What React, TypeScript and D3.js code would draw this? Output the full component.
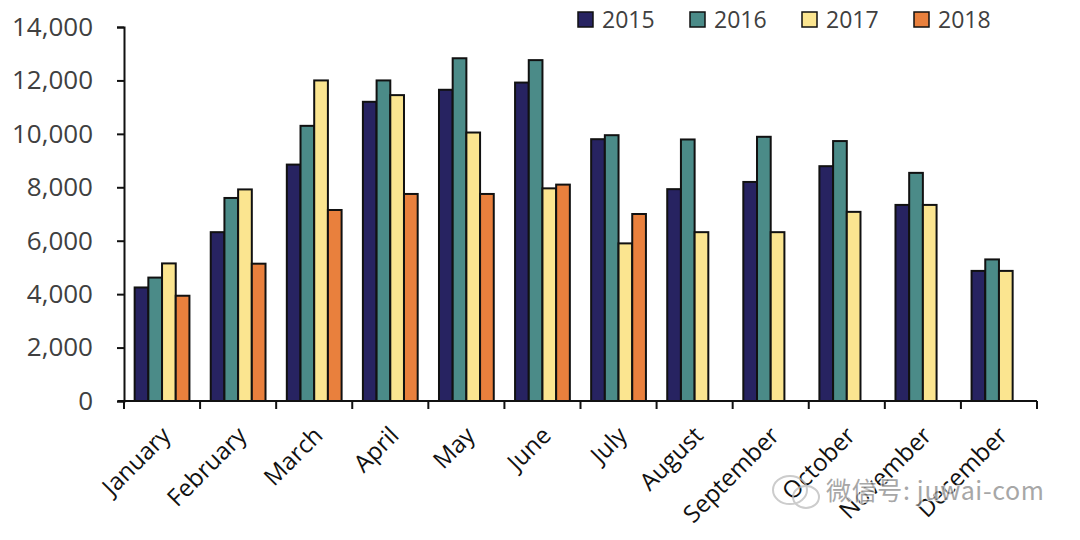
import { useEffect, useRef } from "react";
import * as d3 from "d3";

const months = [
  "January",
  "February",
  "March",
  "April",
  "May",
  "June",
  "July",
  "August",
  "September",
  "October",
  "November",
  "December",
];
const years = ["2015", "2016", "2017", "2018"];
const v2015 = [4250, 6320, 8850, 11200, 11650, 11920, 9800, 7930, 8200, 8790, 7340, 4870];
const v2016 = [4620, 7600, 10300, 12000, 12830, 12760, 9950, 9790, 9890, 9730, 8540, 5300];
const v2017 = [5150, 7920, 12000, 11450, 10050, 7960, 5900, 6320, 6320, 7080, 7340, 4870];
const v2018 = [3940, 5140, 7150, 7750, 7750, 8100, 7000, null, null, null, null, null];
const yTicks = [0, 2000, 4000, 6000, 8000, 10000, 12000, 14000];
const colors = ["#272361", "#4b8b88", "#fbe590", "#e9803d"];

const W = 1080;
const H = 540;
const font = "'Open Sans', 'Noto Sans', sans-serif";

export default function App() {
  const ref = useRef<SVGSVGElement | null>(null);

  useEffect(() => {
    if (!ref.current) return;
    const svg = d3.select(ref.current);
    svg.selectAll("*").remove();

    const series = [v2015, v2016, v2017, v2018];
    const x0 = d3.scaleBand<string>().domain(months).range([124, 1037]);
    const bw = x0.bandwidth();
    const x1 = d3
      .scaleBand<string>()
      .domain(years)
      .range([bw * 0.14, bw * 0.86]);
    const y = d3.scaleLinear([0, 14000], [401, 27]);

    // bars
    const groups = svg
      .append("g")
      .selectAll("g")
      .data(months)
      .join("g")
      .attr("transform", (m) => `translate(${x0(m)},0)`);

    groups
      .selectAll("rect")
      .data((m, i) =>
        years
          .map((yr, k) => ({ yr, k, v: series[k][i] }))
          .filter((d) => d.v != null)
      )
      .join("rect")
      .attr("x", (d) => x1(d.yr)!)
      .attr("width", x1.bandwidth())
      .attr("y", (d) => y(d.v as number))
      .attr("height", (d) => y(0) - y(d.v as number))
      .attr("fill", (d) => colors[d.k])
      .attr("stroke", "#111")
      .attr("stroke-width", 2);

    // y axis
    const yAxis = svg
      .append("g")
      .attr("transform", "translate(124,0)")
      .call(
        d3
          .axisLeft(y)
          .tickValues(yTicks)
          .tickSize(7)
          .tickPadding(24)
          .tickFormat((d) => d3.format(",")(d as number))
      );
    yAxis.select(".domain").attr("stroke", "#111").attr("stroke-width", 2);
    yAxis.selectAll(".tick line").attr("stroke", "#111").attr("stroke-width", 2);
    yAxis
      .selectAll(".tick text")
      .attr("fill", "#404040")
      .style("font-family", font)
      .style("font-size", "26px");

    // x axis
    const xg = svg.append("g").attr("transform", "translate(0,401)");
    xg.append("line")
      .attr("x1", 118)
      .attr("x2", 1037)
      .attr("stroke", "#111")
      .attr("stroke-width", 2);
    const bounds = [...months.map((m) => x0(m)!), 1037];
    xg.selectAll("line.t")
      .data(bounds)
      .join("line")
      .attr("class", "t")
      .attr("x1", (d) => d)
      .attr("x2", (d) => d)
      .attr("y1", 0)
      .attr("y2", 8)
      .attr("stroke", "#111")
      .attr("stroke-width", 2);
    xg.selectAll("text")
      .data(months)
      .join("text")
      .attr(
        "transform",
        (m) => `translate(${x0(m)! + bw / 2 + 10},${36}) rotate(-45)`
      )
      .attr("text-anchor", "end")
      .attr("fill", "#111")
      .style("font-family", font)
      .style("font-size", "24px")
      .text((m) => m);

    // legend
    const lg = svg
      .append("g")
      .selectAll("g")
      .data(years)
      .join("g")
      .attr("transform", (d, i) => `translate(${578 + i * 112},12)`);
    lg.append("rect")
      .attr("width", 15)
      .attr("height", 15)
      .attr("fill", (d, i) => colors[i])
      .attr("stroke", "#111")
      .attr("stroke-width", 1.5);
    lg.append("text")
      .attr("x", 24)
      .attr("y", 16)
      .attr("fill", "#404040")
      .style("font-family", font)
      .style("font-size", "23px")
      .text((d) => d);

    // watermark
    const wm = svg.append("g").attr("opacity", 0.75);
    wm.append("ellipse")
      .attr("cx", 790)
      .attr("cy", 490)
      .attr("rx", 17)
      .attr("ry", 14)
      .attr("fill", "none")
      .attr("stroke", "#bbb")
      .attr("stroke-width", 2);
    wm.append("ellipse")
      .attr("cx", 806)
      .attr("cy", 497)
      .attr("rx", 13)
      .attr("ry", 11)
      .attr("fill", "none")
      .attr("stroke", "#bbb")
      .attr("stroke-width", 2);
    wm.append("text")
      .attr("x", 826)
      .attr("y", 500)
      .attr("fill", "#8a8a8a")
      .attr("stroke", "#fff")
      .attr("stroke-width", 2.5)
      .attr("paint-order", "stroke")
      .attr("textLength", 218)
      .style("font-family", "'Noto Sans CJK SC', 'Noto Sans', sans-serif")
      .style("font-size", "25px")
      .text("微信号: juwai-com");
  }, []);

  return (
    <svg
      ref={ref}
      width={W}
      height={H}
      style={{ position: "absolute", left: 0, top: 0, background: "#fff" }}
    />
  );
}
